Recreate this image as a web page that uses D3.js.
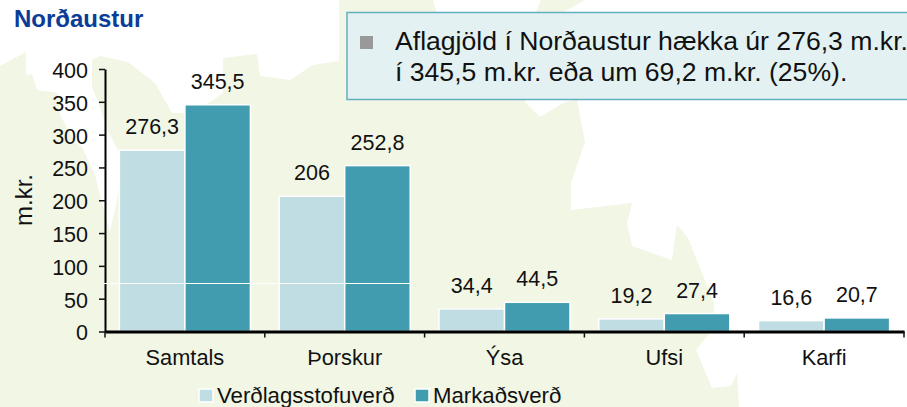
<!DOCTYPE html>
<html>
<head>
<meta charset="utf-8">
<script src="https://cdnjs.cloudflare.com/ajax/libs/d3/7.8.5/d3.min.js"></script>
<style>
  html, body { margin: 0; padding: 0; background: #fff; }
  svg { display: block; }
  text { font-family: "Liberation Sans", Arial, sans-serif; fill: #111; }
</style>
</head>
<body>
<div id="chart"></div>
<script>
const categories = ["Samtals", "Þorskur", "Ýsa", "Ufsi", "Karfi"];
const seriesNames = ["Verðlagsstofuverð", "Markaðsverð"];
const verdlagsstofuverd = [276.3, 206, 34.4, 19.2, 16.6];
const markadsverd = [345.5, 252.8, 44.5, 27.4, 20.7];
const yTicks = [0, 50, 100, 150, 200, 250, 300, 350, 400];
const noteLines = [
  "Aflagjöld í Norðaustur hækka úr 276,3 m.kr.",
  "í 345,5 m.kr. eða um 69,2 m.kr. (25%)."
];

// backdrop map of the region, traced by eye
const mapOutline = [
  [0, 407], [0, 66], [26, 52], [26, 75], [32, 74], [37, 90], [58, 93], [60, 115], [75, 142],
  [82, 147], [95, 175], [100, 195], [110, 232], [117, 200], [122, 158], [106, 127], [100, 107],
  [92, 87], [92, 60], [100, 56], [128, 62], [155, 83], [172, 113], [193, 113], [213, 100],
  [223, 93], [223, 58], [257, 54], [260, 76], [290, 80], [313, 65], [339, 61], [339, 0],
  [433, 0], [437, 14], [535, 14], [541, 0], [585, 0], [560, 14], [525, 102], [540, 117],
  [565, 102], [577, 100], [585, 142], [571, 183], [571, 210], [632, 203], [627, 223], [632, 246],
  [672, 260], [677, 225], [688, 238], [714, 303], [714, 312], [710, 333], [696, 350], [712, 388],
  [731, 386], [737, 373], [739, 407]
];

const width = 907, height = 407;
const margin = { left: 105, right: 3, top: 69, bottom: 75.5 };
const colors = ["#bfdde3", "#419cb0"];

const svg = d3.select("#chart").append("svg").attr("width", width).attr("height", height);

svg.append("path")
  .attr("d", d3.line()(mapOutline) + "Z")
  .attr("fill", "#f1f6e5");

svg.append("text")
  .attr("x", 14).attr("y", 27)
  .attr("font-size", 24).attr("font-weight", "bold")
  .style("fill", "#0b3c96")
  .text("Norðaustur");

const y = d3.scaleLinear().domain([0, 400]).range([height - margin.bottom, margin.top]);
const x0 = d3.scaleBand().domain(categories)
  .range([margin.left, width - margin.right])
  .paddingInner(0.18).paddingOuter(0.09);
const x1 = d3.scaleBand().domain(seriesNames).range([0, x0.bandwidth()]);

const rows = categories.map((c, i) => ({
  category: c,
  values: [verdlagsstofuverd[i], markadsverd[i]]
}));

const groups = svg.append("g").selectAll("g").data(rows).join("g")
  .attr("transform", (d) => `translate(${x0(d.category)},0)`);

groups.selectAll("rect").data((d) => d.values).join("rect")
  .attr("x", (d, i) => x1(seriesNames[i]))
  .attr("y", (d) => y(d))
  .attr("width", x1.bandwidth())
  .attr("height", (d) => y(0) - y(d))
  .attr("fill", (d, i) => colors[i])
  .attr("stroke", "#fff")
  .attr("stroke-width", 1.5);

groups.selectAll("text").data((d) => d.values).join("text")
  .attr("x", (d, i) => x1(seriesNames[i]) + x1.bandwidth() / 2)
  .attr("y", (d) => y(d) - 16)
  .attr("text-anchor", "middle")
  .attr("font-size", 21.5)
  .text((d) => String(d).replace(".", ","));

const yAxis = svg.append("g")
  .attr("transform", `translate(${margin.left},0)`)
  .call(d3.axisLeft(y).tickValues(yTicks).tickSize(6).tickPadding(11).tickSizeOuter(0));
yAxis.selectAll("text").attr("font-size", 21.5).attr("y", 1.5).style("font-family", "Liberation Sans");
yAxis.selectAll("line").attr("stroke", "#111").attr("stroke-width", 1.5);
yAxis.select(".domain").attr("stroke", "#000").attr("stroke-width", 2);

const xAxis = svg.append("g")
  .attr("transform", `translate(0,${y(0)})`)
  .call(d3.axisBottom(x0).tickSize(0).tickPadding(18));
xAxis.selectAll("text").attr("font-size", 21.8).style("font-family", "Liberation Sans");
xAxis.select(".domain").attr("stroke", "#000").attr("stroke-width", 3);

// ticks sit on the band edges, not on the centres
const edges = d3.range(categories.length + 1).map((i) => margin.left + i * x0.step());
svg.append("g").selectAll("line").data(edges).join("line")
  .attr("x1", (d) => d).attr("x2", (d) => d)
  .attr("y1", y(0)).attr("y2", y(0) + 6)
  .attr("stroke", "#111").attr("stroke-width", 1.5);

// axis break, runs across the y axis and the first two groups
svg.append("line")
  .attr("x1", margin.left - 2).attr("x2", x0("Þorskur") + x0.bandwidth())
  .attr("y1", 283.5).attr("y2", 283.5)
  .attr("stroke", "#fff").attr("stroke-width", 1);

svg.append("text")
  .attr("transform", "translate(32,200) rotate(-90)")
  .attr("text-anchor", "middle")
  .attr("font-size", 24)
  .text("m.kr.");

const note = svg.append("g");
note.append("rect")
  .attr("x", 347).attr("y", 12.5)
  .attr("width", 562).attr("height", 87)
  .attr("fill", "#e3f1f3").attr("stroke", "#62b0bf").attr("stroke-width", 1.5);
note.append("rect")
  .attr("x", 360).attr("y", 36).attr("width", 13).attr("height", 13)
  .attr("fill", "#999");
note.selectAll("text").data(noteLines).join("text")
  .attr("x", 395)
  .attr("y", (d, i) => 50 + i * 31)
  .attr("font-size", 26.6)
  .text((d) => d);

const legendX = [199, 415];
const legend = svg.append("g").selectAll("g").data(seriesNames).join("g")
  .attr("transform", (d, i) => `translate(${legendX[i]},389)`);
legend.append("rect")
  .attr("width", 14).attr("height", 13)
  .attr("fill", (d, i) => colors[i])
  .attr("stroke", "#fff").attr("stroke-width", 1.5);
legend.append("text")
  .attr("x", 18).attr("y", 14)
  .attr("font-size", 22.2)
  .text((d) => d);
</script>
</body>
</html>
